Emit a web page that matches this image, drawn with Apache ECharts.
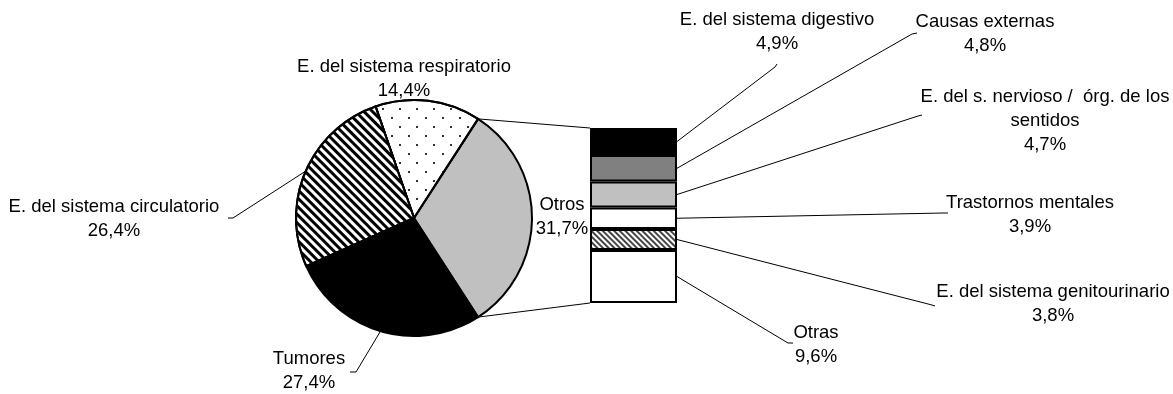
<!DOCTYPE html>
<html>
<head>
<meta charset="utf-8">
<script src="https://cdn.jsdelivr.net/npm/echarts@6/dist/echarts.min.js"></script>
<style>
  html, body { margin: 0; background: #fff; }
  #chart { width: 1173px; height: 394px; }
</style>
</head>
<body>
<div id="chart"></div>
<script>
// pie: main causes, 'Otros' is split out into the bar
const pieNames = ['Otros', 'E. del sistema respiratorio', 'E. del sistema circulatorio', 'Tumores'];
const pieValues = [31.7, 14.4, 26.4, 27.4];
// bar: breakdown of 'Otros', bottom to top
const barNames = ['Otras', 'E. del sistema genitourinario', 'Trastornos mentales',
  'E. del s. nervioso /  órg. de los\nsentidos', 'Causas externas', 'E. del sistema digestivo'];
const barValues = [9.6, 3.8, 3.9, 4.7, 4.8, 4.9];

const fmt = (v) => v.toFixed(1).replace('.', ',') + '%';
const FONT = '18.5px "Liberation Sans", Arial, sans-serif';
const LH = 24;

const chart = echarts.init(document.getElementById('chart'), null, { renderer: 'canvas' });

const pieCenter = [414, 218];
const pieRadius = 118;
const pieTotal = pieValues.reduce((a, b) => a + b, 0);
// 'Otros' slice faces the bar
const startAngle = 360 - (pieValues[0] / pieTotal) * 180;

const pieStyles = [
  { color: '#c0c0c0' },
  {
    color: '#fff',
    decal: {
      symbol: 'rect', symbolSize: 1, color: '#333',
      dashArrayX: [[1.6, 14.4], [0, 8, 1.6, 6.4]],
      dashArrayY: [1.6, 6.1],
    },
  },
  {
    color: '#fff',
    decal: {
      symbol: 'rect', symbolSize: 1, color: '#000',
      dashArrayX: [1, 0], dashArrayY: [2.7, 2.6], rotation: Math.PI / 4,
    },
  },
  { color: '#000' },
];

const barStyles = [
  { color: '#fff' },
  {
    color: '#fff',
    decal: {
      symbol: 'rect', symbolSize: 1, color: '#444',
      dashArrayX: [1, 0], dashArrayY: [1.3, 1.6], rotation: Math.PI / 4,
    },
  },
  { color: '#fff' },
  { color: '#c0c0c0' },
  { color: '#808080' },
  { color: '#000' },
];

const barTotal = barValues.reduce((a, b) => a + b, 0);

const option = {
  animation: false,
  grid: { left: 590, top: 128, width: 87, height: 175 },
  xAxis: { type: 'category', data: ['Otros'], show: false },
  yAxis: { type: 'value', min: 0, max: barTotal, show: false },
  series: [
    {
      type: 'pie',
      center: pieCenter,
      radius: pieRadius,
      startAngle: startAngle,
      clockwise: false,
      silent: true,
      label: { show: false },
      labelLine: { show: false },
      itemStyle: { borderColor: '#000', borderWidth: 2 },
      data: pieNames.map((n, i) => ({ name: n, value: pieValues[i], itemStyle: pieStyles[i] })),
    },
    ...barValues.map((v, i) => ({
      type: 'bar',
      name: barNames[i],
      stack: 'otros',
      barWidth: '100%',
      silent: true,
      itemStyle: Object.assign({ borderColor: '#000', borderWidth: 2 }, barStyles[i]),
      data: [v],
    })),
  ],
};
chart.setOption(option);

// ---- labels, leader lines and connector lines ----
const rad = (deg) => (deg * Math.PI) / 180;
const piePoint = (deg) => [
  pieCenter[0] + pieRadius * Math.cos(rad(deg)),
  pieCenter[1] - pieRadius * Math.sin(rad(deg)),
];

// slice angles (counter-clockwise from startAngle)
let acc = startAngle;
const sliceAngles = pieValues.map((v) => {
  const a0 = acc;
  acc += (v / pieTotal) * 360;
  return { a0: a0, a1: acc, mid: (a0 + acc) / 2 };
});

// label block centres and leader line ends (layout)
const pieLabelPos = [[562, 217], [404, 79], [114, 219], [309, 371]];
const pieLeader = [null, null, [[228, 218], [233, 218]], [[350, 372], [356, 372]]];
const barLabelPos = [[816, 345], [1053, 304], [1030, 215], [1045, 121], [985, 34], [777, 32]];
const barLeader = [
  [[793, 343], [788, 343]],
  [[935, 306], [932, 305]],
  [[948, 213], [943, 213]],
  [[922, 115], [918, 116]],
  [[917, 33], [912, 34]],
  [[777, 64], [775, 67]],
];

const gridRect = chart.getModel().getComponent('grid').coordinateSystem.getRect();
const graphics = [];
const text = (x, y, t) => ({
  type: 'text', x: x, y: y, silent: true,
  style: { text: t, font: FONT, fill: '#000', align: 'center', verticalAlign: 'middle', lineHeight: LH },
});
const line = (pts) => ({
  type: 'polyline', silent: true,
  shape: { points: pts },
  style: { stroke: '#000', lineWidth: 1, fill: null },
});

pieNames.forEach((n, i) => {
  graphics.push(text(pieLabelPos[i][0], pieLabelPos[i][1], n + '\n' + fmt(pieValues[i])));
  if (pieLeader[i]) {
    graphics.push(line(pieLeader[i].concat([piePoint(sliceAngles[i].mid)])));
  }
});

let cum = 0;
barNames.forEach((n, i) => {
  const y = chart.convertToPixel({ yAxisIndex: 0 }, cum + barValues[i] / 2);
  cum += barValues[i];
  graphics.push(text(barLabelPos[i][0], barLabelPos[i][1], n + '\n' + fmt(barValues[i])));
  graphics.push(line(barLeader[i].concat([[gridRect.x + gridRect.width, y]])));
});

// connectors from the 'Otros' slice edges to the bar corners
const topY = chart.convertToPixel({ yAxisIndex: 0 }, barTotal);
const botY = chart.convertToPixel({ yAxisIndex: 0 }, 0);
graphics.push(line([piePoint(sliceAngles[0].a1), [gridRect.x, topY]]));
graphics.push(line([piePoint(sliceAngles[0].a0), [gridRect.x, botY]]));

chart.setOption({ graphic: graphics });
</script>
</body>
</html>
